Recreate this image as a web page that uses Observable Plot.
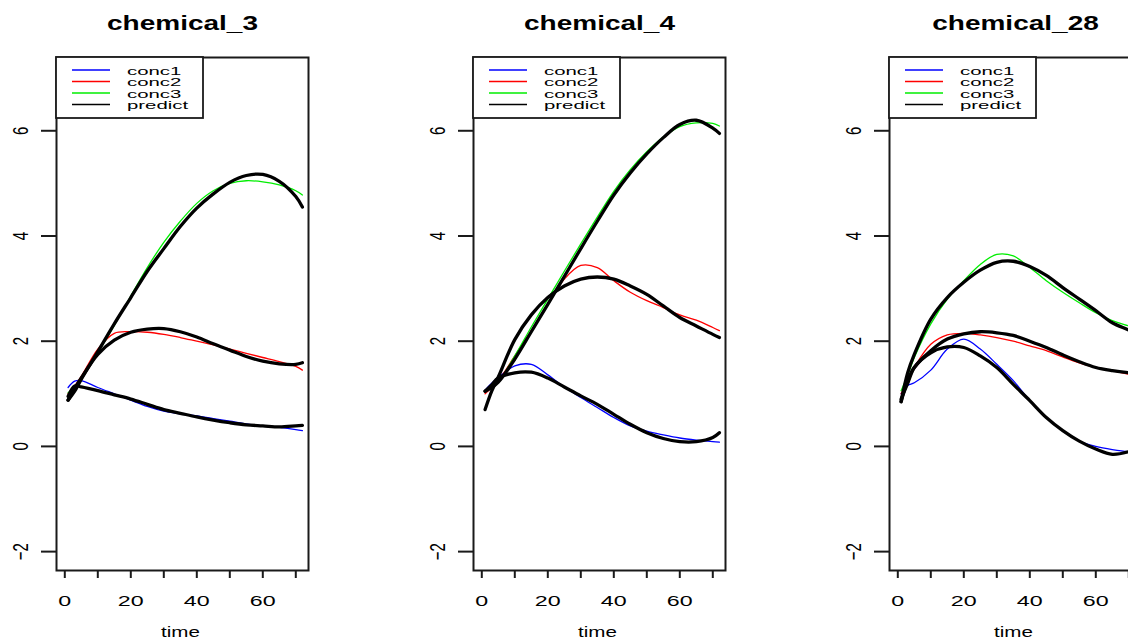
<!DOCTYPE html>
<html><head><meta charset="utf-8">
<script src="https://cdn.jsdelivr.net/npm/d3@7"></script>
<script src="https://cdn.jsdelivr.net/npm/@observablehq/plot@0.6"></script>
<style>
html,body{margin:0;padding:0;background:#fff;overflow:hidden}
#wrap{position:relative;width:1128px;height:642px;overflow:hidden;background:#fff}
.panel{position:absolute;top:0;width:400px;height:642px}
</style></head><body><div id="wrap"></div>
<script>
const FONT = "'Liberation Sans', Arial, Helvetica, sans-serif";
const time = [1,3,5,10,15,20,25,30,35,40,45,50,55,60,65,70,72];
const chemicals = ["chemical_3","chemical_4","chemical_28"];
const concNames = ["conc1","conc2","conc3"];
const concColors = ["#0000ff","#ff0000","#00ee00"];
const legendNames = ["conc1","conc2","conc3","predict"];
const legendColors = ["#0000ff","#ff0000","#00ee00","#000000"];
const xTicks = [0,10,20,30,40,50,60,70];
const yTicks = [-2,0,2,4,6];
const xLabel = "time";

// chemical_3
const c3_conc1 = [1.12,1.24,1.25,1.12,1.0,0.88,0.76,0.67,0.62,0.58,0.53,0.48,0.43,0.39,0.36,0.32,0.3];
const c3_conc2 = [1.0,1.15,1.33,1.85,2.15,2.18,2.17,2.13,2.07,2.0,1.93,1.85,1.77,1.69,1.61,1.52,1.45];
const c3_conc3 = [1.02,1.12,1.28,1.78,2.3,2.86,3.4,3.88,4.28,4.62,4.86,5.0,5.05,5.03,4.97,4.86,4.78];
const c3_pred1 = [0.95,1.15,1.13,1.06,0.98,0.9,0.8,0.7,0.63,0.56,0.5,0.45,0.41,0.39,0.37,0.39,0.4];
const c3_pred2 = [0.88,1.1,1.3,1.75,2.02,2.17,2.23,2.24,2.18,2.08,1.95,1.83,1.71,1.62,1.57,1.56,1.59];
const c3_pred3 = [0.88,1.05,1.28,1.8,2.33,2.83,3.33,3.76,4.18,4.53,4.8,5.02,5.15,5.17,5.04,4.75,4.55];
// chemical_4
const c4_conc1 = [1.07,1.2,1.31,1.53,1.56,1.36,1.13,0.93,0.74,0.55,0.39,0.29,0.22,0.16,0.12,0.09,0.08];
const c4_conc2 = [1.0,1.12,1.25,1.72,2.2,2.7,3.18,3.44,3.4,3.15,2.93,2.77,2.64,2.5,2.4,2.26,2.2];
const c4_conc3 = [1.05,1.12,1.22,1.72,2.27,2.8,3.33,3.85,4.36,4.85,5.26,5.6,5.88,6.08,6.15,6.14,6.09];
const c4_pred1 = [1.05,1.17,1.3,1.4,1.41,1.3,1.13,0.96,0.8,0.61,0.42,0.26,0.15,0.09,0.09,0.17,0.26];
const c4_pred2 = [0.7,1.05,1.32,2.03,2.5,2.83,3.05,3.18,3.22,3.18,3.05,2.89,2.67,2.45,2.29,2.13,2.07];
const c4_pred3 = [1.05,1.12,1.22,1.66,2.18,2.7,3.23,3.76,4.28,4.78,5.2,5.56,5.87,6.12,6.2,6.05,5.95];
// chemical_28
const c28_conc1 = [1.0,1.16,1.21,1.45,1.85,2.04,1.85,1.56,1.25,0.87,0.55,0.3,0.1,0.0,-0.06,-0.1,-0.1];
const c28_conc2 = [1.0,1.25,1.5,1.94,2.12,2.15,2.12,2.07,2.0,1.91,1.82,1.7,1.59,1.5,1.44,1.37,1.34];
const c28_conc3 = [1.06,1.35,1.69,2.33,2.8,3.15,3.46,3.65,3.62,3.4,3.15,2.93,2.73,2.54,2.39,2.29,2.25];
const c28_pred1 = [0.85,1.25,1.5,1.78,1.89,1.88,1.72,1.5,1.18,0.87,0.55,0.3,0.1,-0.05,-0.15,-0.1,-0.05];
const c28_pred2 = [0.9,1.2,1.5,1.82,2.04,2.14,2.18,2.16,2.11,2.0,1.88,1.74,1.61,1.5,1.44,1.4,1.39];
const c28_pred3 = [0.85,1.4,1.75,2.42,2.83,3.12,3.35,3.5,3.52,3.42,3.25,3.02,2.8,2.58,2.35,2.21,2.14];

const panels = [
  {name: chemicals[0], conc: [c3_conc1, c3_conc2, c3_conc3], pred: [c3_pred1, c3_pred2, c3_pred3]},
  {name: chemicals[1], conc: [c4_conc1, c4_conc2, c4_conc3], pred: [c4_pred1, c4_pred2, c4_pred3]},
  {name: chemicals[2], conc: [c28_conc1, c28_conc2, c28_conc3], pred: [c28_pred1, c28_pred2, c28_pred3]}
];

function rows(arrays, prefix) {
  const out = [];
  arrays.forEach((vals, k) => vals.forEach((v, i) => out.push({series: prefix ? prefix + (k + 1) : concNames[k], t: time[i], v})));
  return out;
}

function stretchEl(el, s) {
  let tr = el.getAttribute("transform");
  if (!tr) {
    const x = el.getAttribute("x") || 0, y = el.getAttribute("y") || 0;
    el.removeAttribute("x"); el.removeAttribute("y");
    tr = `translate(${x},${y})`;
  }
  el.setAttribute("transform", tr + (/rotate/.test(tr) ? ` scale(1,${s})` : ` scale(${s},1)`));
}
function stretch(svg, selector, s) {
  svg.querySelectorAll(selector).forEach(el => stretchEl(el, s));
}
function stretchByContent(svg, content, s) {
  svg.querySelectorAll("text").forEach(el => { if (el.textContent === content) stretchEl(el, s); });
}

const wrap = document.getElementById("wrap");
const panelLeft = [0, 416.7, 833.3];

panels.forEach((p, idx) => {
  const div = document.createElement("div");
  div.className = "panel";
  div.style.left = panelLeft[idx] + "px";
  wrap.appendChild(div);

  const plot = Plot.plot({
    width: 400, height: 642,
    marginLeft: 56, marginRight: 92, marginTop: 57, marginBottom: 72,
    style: {fontFamily: FONT, fontSize: "15px", color: "#000", background: "transparent", overflow: "visible"},
    x: {domain: [-2.515, 73.85]},
    y: {domain: [-2.359, 7.393]},
    color: {domain: concNames, range: concColors},
    marks: [
      Plot.line(rows(p.conc), {x: "t", y: "v", z: "series", stroke: "series", strokeWidth: 1.3, curve: "catmull-rom"}),
      Plot.line(rows(p.pred, "pred"), {x: "t", y: "v", z: "series", stroke: "#000", strokeWidth: 3.3, curve: "catmull-rom"}),
      Plot.frame({stroke: "#1a1a1a", strokeWidth: 2}),
      Plot.axisX({ticks: xTicks, tickSize: 8, tickPadding: 17, stroke: "#1a1a1a", strokeWidth: 2,
        tickFormat: d => d % 20 === 0 ? String(d) : "", label: null, fontSize: 15}),
      Plot.axisY({ticks: yTicks, tickSize: 15, tickPadding: 14, tickRotate: -90, stroke: "#1a1a1a", strokeWidth: 2,
        label: null, fontSize: 15}),
      Plot.text([p.name], {frameAnchor: "top", dy: -28, lineAnchor: "bottom", fontWeight: "bold", fontSize: 20}),
      Plot.text([xLabel], {frameAnchor: "bottom", dy: 66, dx: -2, lineAnchor: "bottom", fontSize: 15.5})
    ]
  });
  div.appendChild(plot);
  stretch(plot, 'g[aria-label="x-axis tick label"] text', 1.55);
  stretch(plot, 'g[aria-label="y-axis tick label"] text', 1.5);
  stretchByContent(plot, p.name, 1.4);
  stretchByContent(plot, xLabel, 1.33);

  // legend (top-left inside the plot box)
  const lg = d3.select(div).append("svg")
    .attr("width", 400).attr("height", 130)
    .style("position", "absolute").style("left", "0px").style("top", "0px");
  lg.append("rect").attr("x", 56).attr("y", 57).attr("width", 147).attr("height", 61)
    .attr("fill", "#fff").attr("stroke", "#1a1a1a").attr("stroke-width", 1.8);
  legendNames.forEach((n, i) => {
    const yy = 70 + i * 11.5;
    lg.append("line").attr("x1", 72).attr("x2", 110).attr("y1", yy).attr("y2", yy)
      .attr("stroke", legendColors[i]).attr("stroke-width", 1.5);
    lg.append("text").attr("transform", `translate(127,${yy + 4.8}) scale(1.85,1)`)
      .attr("font-family", FONT).attr("font-size", 11).attr("fill", "#000").text(n);
  });
});
</script></body></html>
